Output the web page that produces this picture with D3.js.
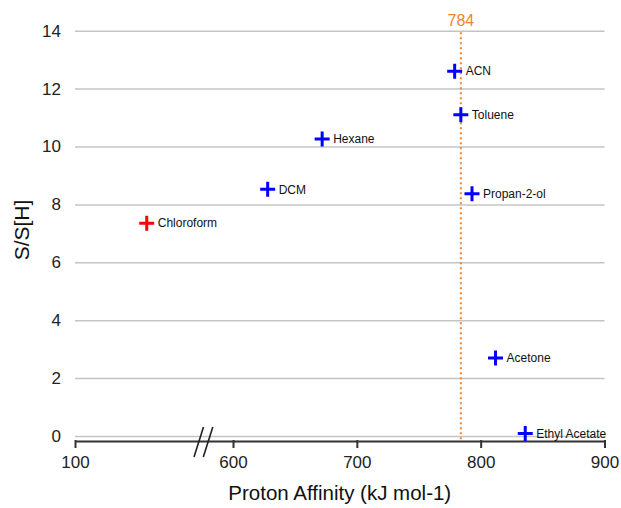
<!DOCTYPE html>
<html>
<head>
<meta charset="utf-8">
<script src="https://cdn.jsdelivr.net/npm/d3@7"></script>
<style>
  html, body { margin: 0; padding: 0; background: #fff; }
  svg { display: block; font-family: "Liberation Sans", Arial, sans-serif; }
</style>
</head>
<body>
<div id="chart"></div>
<script>
// solvents and their values
const solvents = ['Chloroform', 'DCM', 'Hexane', 'ACN', 'Toluene', 'Propan-2-ol', 'Acetone', 'Ethyl Acetate'];
const protonAffinity = [327, 628, 672, 779, 784, 793, 812, 836];
const ratio = [7.35, 8.52, 10.26, 12.6, 11.1, 8.37, 2.69, 0.09];
const highlighted = ['Chloroform'];

const xTicks = [100, 600, 700, 800, 900];
const yTicks = [0, 2, 4, 6, 8, 10, 12, 14];
const threshold = 784;

const width = 621;
const height = 508;

const svg = d3.select('#chart').append('svg')
  .attr('width', width)
  .attr('height', height);

// broken x axis: 100..600 squeezed, 600..900 linear
const x = d3.scaleLinear()
  .domain([100, 600, 900])
  .range([75, 233, 604.5]);

const y = d3.scaleLinear()
  .domain([0, 14])
  .range([436, 30.7]);

const axisY = 441;

// gridlines + y labels
const yAxis = svg.append('g')
  .attr('transform', `translate(${x(100)},0)`)
  .call(d3.axisLeft(y).tickValues(yTicks).tickSize(-(x(900) - x(100))).tickPadding(14));

yAxis.select('.domain').remove();
yAxis.selectAll('.tick line').attr('stroke', '#c4c4c4').attr('stroke-width', 1.5);
yAxis.selectAll('.tick text')
  .attr('font-size', 17)
  .attr('fill', '#222')
  .style('font-family', '"Liberation Sans", Arial, sans-serif');

// x axis
const xAxis = svg.append('g')
  .attr('transform', `translate(0,${axisY})`)
  .call(d3.axisBottom(x).tickValues(xTicks).tickSize(7).tickSizeOuter(0).tickPadding(8));

xAxis.select('.domain').attr('stroke', '#333').attr('stroke-width', 2);
xAxis.selectAll('.tick line').attr('stroke', '#333').attr('stroke-width', 2).attr('y1', -1);
xAxis.selectAll('.tick text')
  .attr('font-size', 17)
  .attr('fill', '#222')
  .style('font-family', '"Liberation Sans", Arial, sans-serif');

// axis break marks
const brk = svg.append('g').attr('stroke', '#222').attr('stroke-width', 1.6);
[0, 9.3].forEach(dx => {
  brk.append('line')
    .attr('x1', 194 + dx).attr('y1', 457)
    .attr('x2', 203.5 + dx).attr('y2', 427);
});

// threshold line
svg.append('line')
  .attr('x1', x(threshold)).attr('x2', x(threshold))
  .attr('y1', y(14) + 1.5).attr('y2', axisY)
  .attr('stroke', '#f5822a')
  .attr('stroke-width', 2)
  .attr('stroke-dasharray', '2,3');

svg.append('text')
  .attr('x', x(threshold))
  .attr('y', 26)
  .attr('text-anchor', 'middle')
  .attr('font-size', 16)
  .attr('fill', '#f5822a')
  .text(threshold);

// points
const points = solvents.map((name, i) => ({ name, pa: protonAffinity[i], r: ratio[i] }));

const pt = svg.append('g').selectAll('g')
  .data(points)
  .join('g')
  .attr('transform', d => `translate(${x(d.pa)},${y(d.r)})`);

pt.append('path')
  .attr('d', 'M-7.5,0H7.5M0,-7.5V7.5')
  .attr('stroke', d => highlighted.includes(d.name) ? '#ff0000' : '#0000ff')
  .attr('stroke-width', 3)
  .attr('fill', 'none');

pt.append('text')
  .attr('x', 11)
  .attr('dy', '0.35em')
  .attr('font-size', 12)
  .attr('fill', '#111')
  .text(d => d.name);

// axis titles
svg.append('text')
  .attr('x', (x(100) + x(900)) / 2)
  .attr('y', 500)
  .attr('text-anchor', 'middle')
  .attr('font-size', 20.5)
  .attr('fill', '#111')
  .text('Proton Affinity (kJ mol-1)');

svg.append('text')
  .attr('transform', 'translate(29,230) rotate(-90)')
  .attr('text-anchor', 'middle')
  .attr('font-size', 21)
  .attr('fill', '#111')
  .text('S/S[H]');
</script>
</body>
</html>
